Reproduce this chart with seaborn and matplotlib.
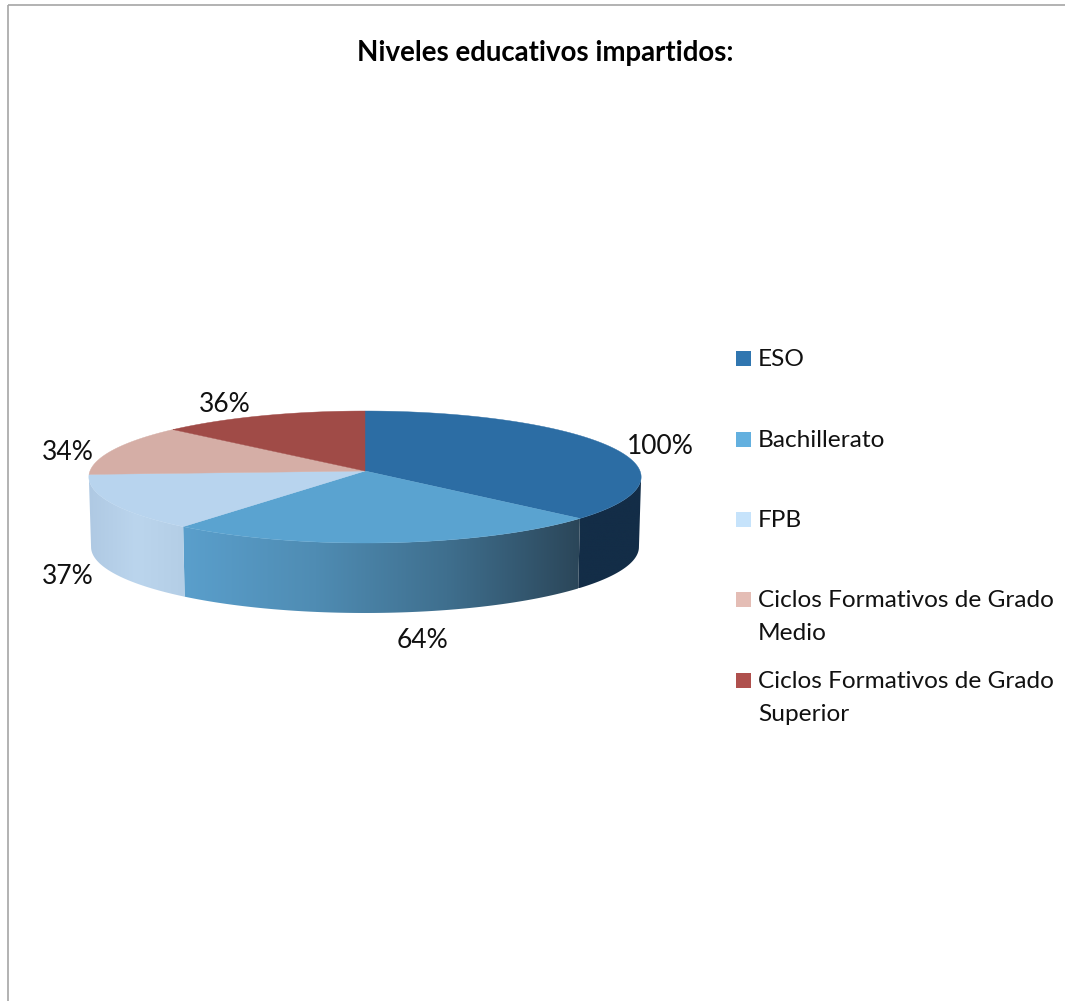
import numpy as np
import matplotlib
matplotlib.use('Agg')
import matplotlib.pyplot as plt
from matplotlib.colors import to_rgb
import seaborn as sns

# Data
title = 'Niveles educativos impartidos:'
categories = ['ESO', 'Bachillerato', 'FPB',
              'Ciclos Formativos de Grado\nMedio',
              'Ciclos Formativos de Grado\nSuperior']
values = [100, 64, 37, 34, 36]

top_colors = ['#2C6DA4', '#5AA3D0', '#B8D4EE', '#D5AEA6', '#A04B47']
legend_colors = ['#3076B0', '#63B0DF', '#C6E3FB', '#E4BDB5', '#AF504D']
# side wall colours, left to right across each visible slice
side_stops = [['#132D47', '#132D47'],
              ['#5A9FCC', '#4F8CB3', '#3F6F8E', '#2B4659'],
              ['#AFC9E3', '#BBD5ED', '#B4CEE6']]

sns.set_theme(style='white')
plt.rcParams['font.family'] = ['Lato', 'DejaVu Sans']
palette = sns.color_palette(top_colors)
legend_palette = sns.color_palette(legend_colors)

W, H = 1069, 1001
fig = plt.figure(figsize=(W / 100, H / 100), dpi=100)
ax = fig.add_axes([0, 0, 1, 1])

# pie projection, the disc is seen in slight perspective
CX, CY, R, DEPTH = 365, 471, 275, 70
B, A = 0.0909, 65.45

def project(t, shrink=1.0, drop=0):
    u, v = np.sin(t), np.cos(t)
    den = 1 + B * v
    return CX + shrink * R * u / den, CY - A * v / den + drop

total = sum(values)
edges = np.radians(np.cumsum([0] + values) / total * 360)

# widest points of the projected disc, the wall is only seen between them
side_a = np.pi / 2 + np.arcsin(B)
side_b = 3 * np.pi / 2 - np.arcsin(B)

# side wall, gradient image clipped to each slice
for i in range(3):
    t0 = max(edges[i], side_a)
    t1 = min(edges[i + 1], side_b)
    ts = np.linspace(t0, t1, 200)
    xt, yt = project(ts)
    xb, yb = project(ts, shrink=0.992, drop=DEPTH)
    px = np.r_[xt, xb[::-1]]
    py = np.r_[yt, yb[::-1]]
    stops = np.array([to_rgb(c) for c in side_stops[i]])
    pos = np.linspace(0, 1, len(stops))
    f = np.linspace(0, 1, 256)
    grad = np.stack([np.interp(f, pos, stops[:, k]) for k in range(3)], axis=-1)[None, :, :]
    im = ax.imshow(grad, extent=(px.min(), px.max(), py.max(), py.min()), aspect='auto',
                   interpolation='bilinear', zorder=1)
    clip = ax.fill(px, py, color=stops[0], lw=0, alpha=0, zorder=1)[0]
    im.set_clip_path(clip)

# top face
for i in range(len(values)):
    ts = np.linspace(edges[i], edges[i + 1], 200)
    x, y = project(ts)
    ax.fill(np.r_[CX, x], np.r_[CY, y], color=palette[i], lw=0.3, zorder=2)

# percent labels
label_pos = [(660, 446), (422, 641), (68, 576), (68, 452), (225, 405)]
for v, (lx, ly) in zip(values, label_pos):
    ax.text(lx, ly, f'{v}%', fontsize=19, color='#111111', ha='center', va='center')

# legend
legend_y = [358, 439, 519, 599, 680]
for name, c, ly in zip(categories, legend_palette, legend_y):
    ax.add_patch(plt.Rectangle((736, ly - 7.5), 15, 15, color=c, lw=0))
    ax.text(758, ly - 9, name, fontsize=17.6, color='#111111', ha='left', va='top', linespacing=1.68)

ax.text(545, 53, title, fontsize=19.9, fontweight='bold', color='black', ha='center', va='center')

# chart frame, only left and top are inside the crop
ax.plot([8, 8], [H, 5], color='#A6A6A6', lw=1.2, solid_capstyle='butt')
ax.plot([8, W - 4], [5, 5], color='#A6A6A6', lw=1.2, solid_capstyle='butt')

ax.set_xlim(0, W)
ax.set_ylim(H, 0)
ax.axis('off')

fig.savefig('out.png', dpi=100, facecolor='white')
